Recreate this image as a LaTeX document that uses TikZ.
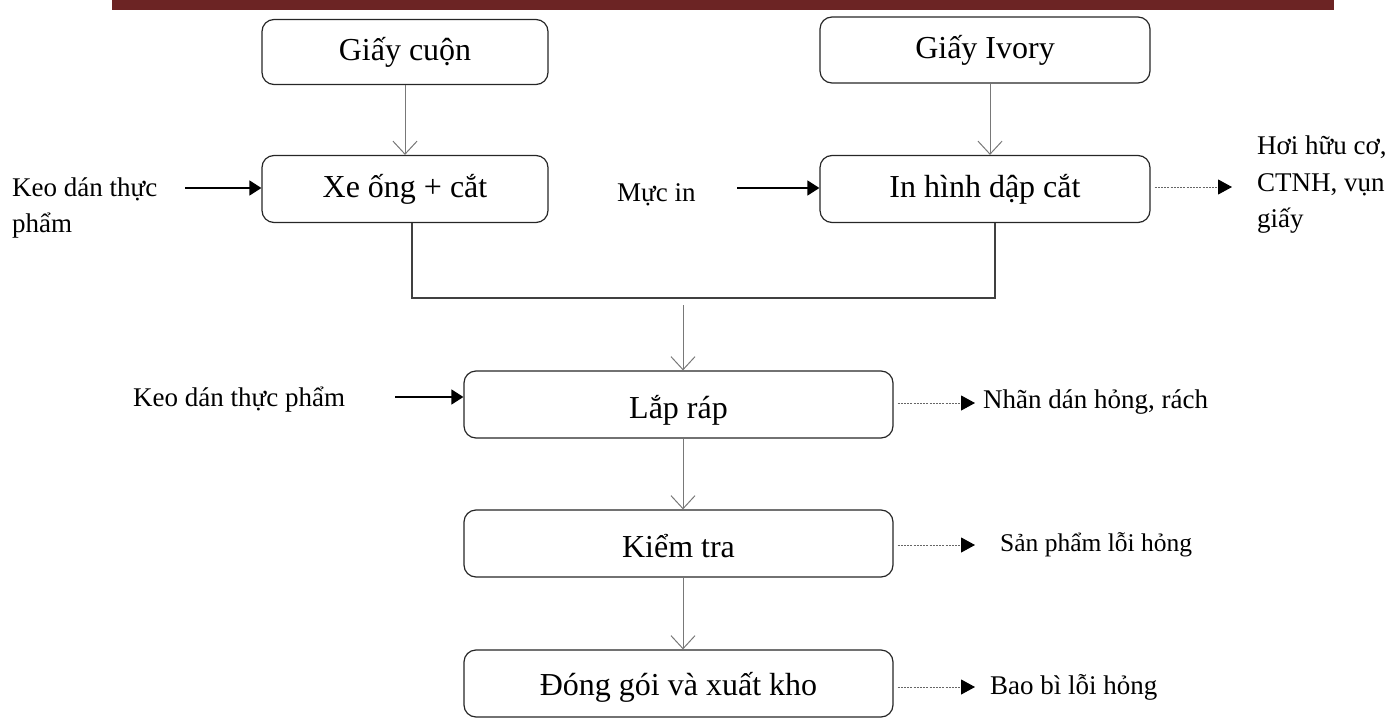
\documentclass[tikz,border=0pt]{standalone}
\usepackage{fontspec}
\setmainfont{Liberation Serif}
\usetikzlibrary{arrows.meta}
\definecolor{barred}{RGB}{108,36,36}
\definecolor{linegray}{RGB}{120,120,120}
\begin{document}
\begin{tikzpicture}[x=1pt,y=-1pt,
  stepbox/.style={draw=black!85,line width=1.2pt,rounded corners=12pt,inner sep=0pt},
  bigtxt/.style={font=\fontsize{32}{36}\selectfont},
  smalltxt/.style={font=\fontsize{27}{36.5}\selectfont,inner sep=0pt,anchor=west,align=left},
  flow/.style={draw=linegray,line width=1pt,-{Straight Barb[length=13pt,width=24pt,line width=1pt]}},
  merge/.style={draw=black!75,line width=1.5pt},
  feed/.style={draw=black,line width=1.5pt,-{Triangle[length=12pt,width=15pt]}},
  waste/.style={draw=black!60,line width=1pt,dash pattern=on 2pt off 1.2pt,-{Triangle[length=14pt,width=15pt,color=black,fill=black]}}
]
\useasboundingbox (0,0) rectangle (1387,720);
% heading rule
\fill[barred] (112,0) rectangle (1334,10);

% process boxes
\node[stepbox,minimum width=286pt,minimum height=65pt] (cuon) at (405,52) {};
\node[bigtxt] at (cuon) {Giấy cuộn};
\node[stepbox,minimum width=330pt,minimum height=66pt] (ivory) at (985,50) {};
\node[bigtxt] at (ivory) {Giấy Ivory};
\node[stepbox,minimum width=286pt,minimum height=67pt] (xeong) at (405,189) {};
\node[bigtxt] at (xeong) {Xe ống + cắt};
\node[stepbox,minimum width=330pt,minimum height=67pt] (inhinh) at (985,189) {};
\node[bigtxt] at (inhinh) {In hình dập cắt};
\node[stepbox,minimum width=429pt,minimum height=67pt] (laprap) at (678.5,404.5) {};
\node[bigtxt] at (678.5,410) {Lắp ráp};
\node[stepbox,minimum width=429pt,minimum height=67pt] (kiemtra) at (678.5,543.5) {};
\node[bigtxt] at (678.5,546) {Kiểm tra};
\node[stepbox,minimum width=429pt,minimum height=67pt] (donggoi) at (678.5,683.5) {};
\node[bigtxt] at (678.5,687) {Đóng gói và xuất kho};

% side labels
\node[smalltxt] (keo1) at (12,208) {Keo dán thực\\phẩm};
\node[smalltxt] (mucin) at (617,195) {Mực in};
\node[smalltxt] (hoi) at (1257,185) {Hơi hữu cơ,\\CTNH, vụn\\giấy};
\node[smalltxt] (keo2) at (133,400) {Keo dán thực phẩm};
\node[smalltxt] (nhan) at (983,402) {Nhãn dán hỏng, rách};
\node[font=\fontsize{25.5}{34}\selectfont,inner sep=0pt,anchor=west] (sanpham) at (1000,545) {Sản phẩm lỗi hỏng};
\node[smalltxt] (baobi) at (990,687) {Bao bì lỗi hỏng};

% junction of the two branches
\coordinate (jl) at (412,298);
\coordinate (jr) at (995,298);
\coordinate (jm) at (683,305);

% main flow
\draw[flow] (cuon.south -| 405,0) -- (xeong.north -| 405,0);
\draw[flow] (ivory.south -| 990,0) -- (inhinh.north -| 990,0);
\draw[merge] (xeong.south -| jl) -- (jl) -- (jr) -- (inhinh.south -| jr);
\draw[flow] (jm) -- (laprap.north -| jm);
\draw[flow] (laprap.south -| jm) -- (kiemtra.north -| jm);
\draw[flow] (kiemtra.south -| jm) -- (donggoi.north -| jm);

% inputs
\coordinate (f1) at (185,188);
\coordinate (f2) at (737,188);
\coordinate (f3) at (395,397);
\draw[feed] (f1) -- (xeong.west |- f1);
\draw[feed] (f2) -- (inhinh.west |- f2);
\draw[feed] (f3) -- (laprap.west |- f3);

% waste streams
\coordinate (w1) at (1232,187);
\coordinate (w2) at (975,403);
\coordinate (w3) at (975,545);
\coordinate (w4) at (975,687);
\draw[waste] (inhinh.east |- w1) ++(4,0) -- (w1);
\draw[waste] (laprap.east |- w2) ++(4,0) -- (w2);
\draw[waste] (kiemtra.east |- w3) ++(4,0) -- (w3);
\draw[waste] (donggoi.east |- w4) ++(4,0) -- (w4);
\end{tikzpicture}
\end{document}
